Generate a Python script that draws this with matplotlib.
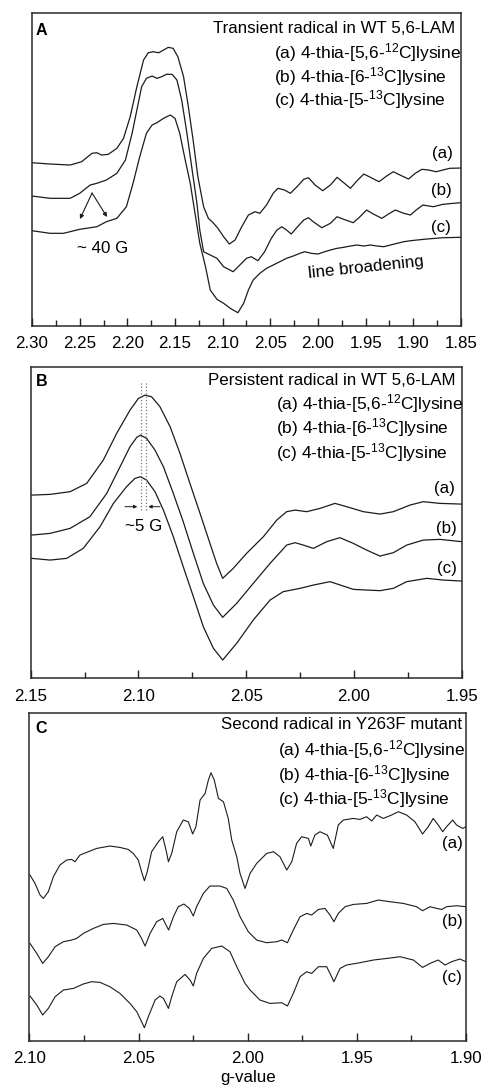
import numpy as np
import matplotlib
matplotlib.use('Agg')
import matplotlib.pyplot as plt
from matplotlib.ticker import MultipleLocator, FormatStrFormatter

plt.rcParams['font.family'] = ['Liberation Sans', 'DejaVu Sans']
plt.rcParams['mathtext.default'] = 'regular'

# ---------------- panel A: transient radical (g-value, intensity a.u.)
gA_a = [2.300, 2.281, 2.260, 2.248, 2.237, 2.232, 2.227, 2.220, 2.211, 2.204, 2.197, 2.190,
        2.183, 2.178, 2.173, 2.167, 2.162, 2.157, 2.152, 2.147, 2.141, 2.136, 2.131, 2.126,
        2.120, 2.115, 2.110, 2.105, 2.099, 2.093, 2.087, 2.080, 2.073, 2.066, 2.061, 2.054,
        2.047, 2.042, 2.035, 2.029, 2.022, 2.015, 2.010, 2.003, 1.995, 1.987, 1.980, 1.973,
        1.966, 1.959, 1.952, 1.945, 1.936, 1.928, 1.921, 1.914, 1.905, 1.898, 1.891, 1.884,
        1.876, 1.869, 1.862, 1.850]
iA_a = [163.3, 162.0, 161.0, 164.3, 172.7, 173.3, 171.0, 171.7, 177.7, 187.7, 209.3, 239.3,
        266.0, 273.3, 274.3, 273.3, 276.0, 278.7, 277.7, 269.3, 249.3, 219.3, 186.0, 149.3,
        119.3, 107.7, 103.3, 97.7, 89.3, 82.0, 86.0, 99.3, 111.0, 114.3, 112.7, 121.0,
        132.7, 137.7, 136.0, 132.7, 139.3, 146.7, 148.3, 141.0, 135.3, 141.0, 148.7, 143.3,
        137.7, 145.3, 152.0, 148.7, 144.3, 150.0, 154.3, 151.0, 147.0, 152.7, 156.7, 156.0,
        154.3, 156.0, 157.7, 158.0]

gA_b = [2.300, 2.281, 2.260, 2.250, 2.239, 2.232, 2.222, 2.211, 2.202, 2.195, 2.190, 2.185,
        2.180, 2.174, 2.169, 2.164, 2.159, 2.153, 2.148, 2.143, 2.138, 2.133, 2.127, 2.124,
        2.120, 2.113, 2.106, 2.099, 2.089, 2.082, 2.075, 2.070, 2.063, 2.056, 2.049, 2.043,
        2.038, 2.033, 2.028, 2.022, 2.015, 2.010, 2.005, 1.996, 1.987, 1.980, 1.973, 1.963,
        1.956, 1.949, 1.942, 1.933, 1.926, 1.919, 1.910, 1.903, 1.897, 1.890, 1.879, 1.869,
        1.858, 1.850]
iA_b = [130.0, 127.7, 127.7, 132.7, 141.0, 142.7, 146.0, 152.7, 166.0, 192.7, 216.0, 239.3,
        247.7, 250.0, 247.7, 249.3, 251.7, 251.7, 246.0, 226.0, 196.0, 162.7, 122.7, 96.0,
        74.3, 71.0, 67.7, 59.3, 54.3, 61.0, 67.7, 69.3, 65.3, 74.3, 87.7, 96.0,
        99.3, 96.0, 92.0, 98.7, 106.0, 108.3, 104.3, 98.3, 102.7, 109.3, 106.7, 103.3,
        109.3, 116.0, 112.0, 107.7, 112.0, 116.0, 112.7, 111.0, 116.0, 121.0, 119.3, 121.7,
        122.7, 123.3]

gA_c = [2.300, 2.281, 2.267, 2.250, 2.232, 2.222, 2.211, 2.201, 2.194, 2.187, 2.180, 2.174,
        2.169, 2.162, 2.155, 2.150, 2.145, 2.140, 2.134, 2.129, 2.124, 2.118, 2.113, 2.106,
        2.099, 2.092, 2.084, 2.078, 2.073, 2.068, 2.061, 2.054, 2.047, 2.040, 2.033, 2.026,
        2.019, 2.014, 2.007, 2.000, 1.993, 1.987, 1.980, 1.973, 1.966, 1.959, 1.952, 1.945,
        1.938, 1.931, 1.924, 1.917, 1.910, 1.903, 1.896, 1.889, 1.882, 1.869, 1.850]
iA_c = [95.3, 92.7, 92.7, 96.7, 99.3, 104.3, 107.7, 119.3, 142.7, 169.3, 192.7, 201.0,
        203.3, 207.7, 211.0, 207.7, 192.7, 169.3, 142.7, 112.7, 82.7, 59.3, 36.0, 26.7,
        22.7, 17.7, 13.3, 22.7, 36.0, 46.0, 52.7, 57.7, 61.0, 64.3, 67.7, 70.0,
        72.7, 74.3, 72.7, 72.0, 74.3, 76.0, 77.7, 78.7, 80.0, 81.0, 80.0, 81.0,
        80.0, 79.3, 81.0, 82.7, 84.3, 85.3, 86.0, 86.7, 87.3, 88.3, 88.7]

# ---------------- panel B: persistent radical
gB_a = [2.1495, 2.1410, 2.1317, 2.1240, 2.1163, 2.1101, 2.1039, 2.1000, 2.0969, 2.0939,
        2.0900, 2.0853, 2.0807, 2.0761, 2.0714, 2.0668, 2.0637, 2.0609, 2.0560, 2.0498,
        2.0420, 2.0358, 2.0312, 2.0273, 2.0219, 2.0157, 2.0088, 2.0034, 1.9956, 1.9879,
        1.9817, 1.9740, 1.9678, 1.9601, 1.9500]
iB_a = [183.3, 184.0, 186.7, 195.0, 218.3, 245.0, 268.3, 280.0, 283.3, 281.7,
        271.7, 251.7, 225.0, 195.0, 165.0, 135.0, 115.0, 100.0, 110.0, 125.0,
        141.7, 158.3, 166.7, 168.3, 166.7, 170.0, 175.0, 171.7, 166.7, 164.3,
        166.7, 173.3, 176.7, 175.0, 174.3]

gB_b = [2.1495, 2.1410, 2.1317, 2.1225, 2.1147, 2.1085, 2.1039, 2.1008, 2.0990, 2.0962,
        2.0923, 2.0884, 2.0838, 2.0792, 2.0745, 2.0699, 2.0652, 2.0609, 2.0544, 2.0467,
        2.0389, 2.0312, 2.0273, 2.0235, 2.0188, 2.0126, 2.0065, 2.0003, 1.9941, 1.9879,
        1.9817, 1.9755, 1.9678, 1.9601, 1.9500]
iB_b = [143.3, 145.0, 150.0, 161.7, 185.0, 211.7, 231.7, 241.0, 243.3, 240.0,
        228.3, 211.7, 185.0, 156.7, 125.0, 95.0, 73.3, 61.0, 75.0, 95.0,
        115.0, 133.3, 135.7, 133.3, 130.0, 136.7, 140.7, 135.0, 128.3, 122.3,
        125.7, 133.3, 138.3, 139.0, 136.7]

gB_c = [2.1495, 2.1410, 2.1333, 2.1256, 2.1178, 2.1116, 2.1055, 2.1016, 2.0990, 2.0962,
        2.0923, 2.0884, 2.0838, 2.0792, 2.0745, 2.0699, 2.0652, 2.0609, 2.0544, 2.0467,
        2.0389, 2.0328, 2.0250, 2.0188, 2.0111, 2.0049, 2.0003, 1.9941, 1.9879, 1.9817,
        1.9755, 1.9662, 1.9585, 1.9500]
iB_c = [120.0, 118.3, 120.0, 130.0, 151.7, 175.0, 191.7, 200.0, 201.7, 198.3,
        186.7, 168.3, 141.7, 111.7, 81.7, 51.7, 30.0, 18.3, 35.0, 58.3,
        78.3, 86.7, 90.0, 93.3, 96.7, 92.3, 89.0, 88.3, 87.7, 90.0,
        96.7, 100.0, 98.3, 97.3]

# ---------------- panel C: second radical in Y263F mutant
gC_a = [2.0997, 2.0974, 2.0951, 2.0936, 2.0913, 2.0890, 2.0860, 2.0829, 2.0806, 2.0791,
        2.0768, 2.0730, 2.0692, 2.0631, 2.0585, 2.0547, 2.0524, 2.0501, 2.0486, 2.0473,
        2.0460, 2.0440, 2.0409, 2.0389, 2.0374, 2.0363, 2.0348, 2.0325, 2.0295, 2.0272,
        2.0252, 2.0237, 2.0218, 2.0195, 2.0180, 2.0168, 2.0153, 2.0134, 2.0111, 2.0089,
        2.0073, 2.0050, 2.0035, 2.0012, 1.9989, 1.9959, 1.9913, 1.9882, 1.9852, 1.9821,
        1.9798, 1.9776, 1.9753, 1.9722, 1.9711, 1.9692, 1.9669, 1.9635, 1.9608, 1.9585,
        1.9562, 1.9516, 1.9486, 1.9455, 1.9432, 1.9409, 1.9379, 1.9341, 1.9310, 1.9272,
        1.9234, 1.9199, 1.9173, 1.9150, 1.9127, 1.9107, 1.9089, 1.9061, 1.9043, 1.9015,
        1.9000]
iC_a = [165.7, 157.3, 145.7, 142.3, 149.0, 164.0, 175.7, 180.7, 181.3, 179.0,
        185.7, 189.0, 192.3, 194.7, 193.3, 191.3, 187.3, 180.7, 169.0, 160.0,
        169.0, 189.0, 199.0, 204.0, 190.7, 179.0, 187.3, 209.0, 220.7, 219.0,
        206.7, 214.0, 240.7, 247.3, 260.7, 268.0, 260.7, 242.3, 239.0, 222.3,
        200.7, 184.0, 167.3, 152.3, 167.3, 177.3, 187.3, 189.0, 184.0, 170.7,
        179.0, 197.3, 204.0, 202.3, 194.7, 205.7, 209.0, 205.7, 192.3, 215.7,
        220.7, 222.3, 221.3, 224.0, 219.7, 225.7, 222.3, 225.7, 229.0, 225.7,
        219.0, 206.7, 214.0, 222.3, 215.7, 209.0, 214.0, 220.7, 215.7, 212.3,
        214.0]

gC_b = [2.0997, 2.0966, 2.0939, 2.0913, 2.0882, 2.0844, 2.0806, 2.0783, 2.0753, 2.0707,
        2.0661, 2.0615, 2.0554, 2.0508, 2.0486, 2.0470, 2.0447, 2.0417, 2.0389, 2.0374,
        2.0362, 2.0340, 2.0318, 2.0292, 2.0267, 2.0249, 2.0234, 2.0203, 2.0173, 2.0127,
        2.0096, 2.0066, 2.0035, 1.9997, 1.9959, 1.9913, 1.9867, 1.9844, 1.9818, 1.9791,
        1.9760, 1.9730, 1.9707, 1.9676, 1.9646, 1.9623, 1.9605, 1.9585, 1.9554, 1.9516,
        1.9455, 1.9402, 1.9348, 1.9287, 1.9226, 1.9199, 1.9165, 1.9134, 1.9111, 1.9089,
        1.9043, 1.9000]
iC_b = [97.3, 87.3, 77.3, 84.0, 94.0, 99.0, 100.7, 102.3, 107.3, 112.3,
        116.3, 117.3, 115.7, 110.7, 102.3, 94.7, 107.3, 119.0, 122.3, 115.7,
        110.7, 124.0, 134.0, 136.7, 132.3, 124.7, 134.0, 147.3, 154.7, 154.7,
        152.3, 140.7, 124.0, 109.0, 100.7, 98.0, 99.0, 100.7, 98.0, 110.7,
        124.0, 127.3, 125.7, 131.3, 132.3, 125.7, 119.0, 127.3, 134.0, 136.3,
        137.3, 140.7, 139.0, 137.3, 134.0, 130.0, 134.0, 132.3, 131.3, 134.0,
        135.0, 134.0]

gC_c = [2.0997, 2.0966, 2.0939, 2.0913, 2.0882, 2.0844, 2.0798, 2.0753, 2.0715, 2.0676,
        2.0631, 2.0585, 2.0539, 2.0508, 2.0486, 2.0473, 2.0455, 2.0424, 2.0402, 2.0386,
        2.0363, 2.0348, 2.0325, 2.0287, 2.0264, 2.0249, 2.0234, 2.0203, 2.0165, 2.0119,
        2.0081, 2.0050, 2.0012, 1.9989, 1.9944, 1.9898, 1.9844, 1.9818, 1.9791, 1.9760,
        1.9730, 1.9707, 1.9676, 1.9638, 1.9623, 1.9605, 1.9577, 1.9547, 1.9486, 1.9424,
        1.9363, 1.9302, 1.9241, 1.9199, 1.9165, 1.9127, 1.9096, 1.9066, 1.9028, 1.9000]
iC_c = [44.7, 35.7, 25.7, 32.3, 44.0, 50.7, 52.3, 56.7, 59.0, 58.3,
        54.0, 47.3, 37.3, 29.0, 19.0, 13.0, 24.0, 40.7, 44.7, 42.3,
        32.3, 44.0, 59.0, 66.3, 60.7, 54.7, 67.3, 82.3, 92.3, 94.7,
        89.0, 74.0, 57.3, 50.7, 40.7, 37.3, 38.0, 34.7, 47.3, 64.0,
        69.0, 67.3, 74.0, 74.0, 67.3, 59.0, 72.3, 75.7, 78.0, 80.7,
        82.3, 84.0, 80.7, 73.3, 77.3, 80.7, 75.7, 79.0, 81.7, 79.0]

legend_lines = [r'(a) 4-thia-[5,6-$^{12}$C]lysine',
                r'(b) 4-thia-[6-$^{13}$C]lysine',
                r'(c) 4-thia-[5-$^{13}$C]lysine']
titles = ['Transient radical in WT 5,6-LAM',
          'Persistent radical in WT 5,6-LAM',
          'Second radical in Y263F mutant']

FS = 12.2
FL = 12.5
LC = '#1c1c1c'

fig = plt.figure(figsize=(4.82, 10.86), dpi=100)
axA = fig.add_axes([0.0664, 0.6998, 0.8900, 0.2882])
axB = fig.add_axes([0.0636, 0.3754, 0.8942, 0.2869])
axC = fig.add_axes([0.0609, 0.0417, 0.9059, 0.3020])


def style(ax, xmax, xmin, ytop):
    ax.set_xlim(xmax, xmin)
    ax.set_ylim(0, ytop)
    ax.xaxis.set_major_locator(MultipleLocator(0.05))
    ax.xaxis.set_minor_locator(MultipleLocator(0.025))
    ax.xaxis.set_major_formatter(FormatStrFormatter('%.2f'))
    ax.set_yticks([])
    ax.tick_params(axis='x', which='both', direction='in', top=False,
                   labelsize=FS, pad=7.5, color='#222222')
    ax.tick_params(axis='x', which='major', length=6, width=1.0)
    ax.tick_params(axis='x', which='minor', length=4, width=1.0)
    for s in ax.spines.values():
        s.set_linewidth(1.1)
        s.set_color('#2a2a2a')


# panel A
style(axA, 2.30, 1.85, 313)
for g, i in [(gA_a, iA_a), (gA_b, iA_b), (gA_c, iA_c)]:
    axA.plot(g, i, color=LC, lw=0.9)
axA.text(2.296, 296, 'A', fontsize=11.5, fontweight='bold', va='center', ha='left')
axA.text(1.856, 298, titles[0], fontsize=FS, ha='right', va='center')
for k, y in enumerate([273, 249, 226]):
    axA.text(2.046, y, legend_lines[k], fontsize=FL, ha='left', va='center')
for lab, g, y in [('(a)', 1.869, 173), ('(b)', 1.871, 136), ('(c)', 1.871, 99)]:
    axA.text(g, y, lab, fontsize=FS, ha='center', va='center')
axA.text(2.226, 78, '~ 40 G', fontsize=FS, ha='center', va='center')
for end in [(2.2497, 107), (2.2213, 109)]:
    axA.annotate('', xy=end, xytext=(2.237, 133),
                 arrowprops=dict(arrowstyle='-|>', lw=0.8, color=LC,
                                 mutation_scale=6, shrinkA=0, shrinkB=0))
axA.text(1.9496, 59, 'line broadening', fontsize=FS, ha='center', va='center',
         rotation=6)

# panel B
style(axB, 2.15, 1.95, 311.7)
for g, i in [(gB_a, iB_a), (gB_b, iB_b), (gB_c, iB_c)]:
    axB.plot(g, i, color=LC, lw=0.9)
axB.text(2.1478, 296.6, 'B', fontsize=11.5, fontweight='bold', va='center', ha='left')
axB.text(1.9527, 297.6, titles[1], fontsize=FS, ha='right', va='center')
for k, y in enumerate([275, 251, 226]):
    axB.text(2.0363, y, legend_lines[k], fontsize=FL, ha='left', va='center')
for lab, g, y in [('(a)', 1.9578, 190), ('(b)', 1.9569, 150), ('(c)', 1.9569, 110)]:
    axB.text(g, y, lab, fontsize=FS, ha='center', va='center')
for gd in [2.0988, 2.0965]:
    axB.plot([gd, gd], [168, 296], ls=':', lw=0.9, color='#777777')
axB.annotate('', xy=(2.1005, 171.7), xytext=(2.1062, 171.7),
             arrowprops=dict(arrowstyle='-|>', lw=0.7, color=LC,
                             mutation_scale=5, shrinkA=0, shrinkB=0))
axB.annotate('', xy=(2.0954, 171.7), xytext=(2.0900, 171.7),
             arrowprops=dict(arrowstyle='-|>', lw=0.7, color=LC,
                             mutation_scale=5, shrinkA=0, shrinkB=0))
axB.text(2.0976, 152, '~5 G', fontsize=FS, ha='center', va='center')

# panel C
style(axC, 2.10, 1.90, 328)
for g, i in [(gC_a, iC_a), (gC_b, iC_b), (gC_c, iC_c)]:
    axC.plot(g, i, color=LC, lw=0.8)
axC.text(2.0974, 312.3, 'C', fontsize=11.5, fontweight='bold', va='center', ha='left')
axC.text(1.9018, 316.7, titles[2], fontsize=FS, ha='right', va='center')
for k, y in enumerate([290.7, 265.7, 241.7]):
    axC.text(1.9861, y, legend_lines[k], fontsize=FL, ha='left', va='center')
for lab, y in [('(a)', 197.7), ('(b)', 119.7), ('(c)', 63.7)]:
    axC.text(1.9064, y, lab, fontsize=FS, ha='center', va='center')
axC.set_xlabel('g-value', fontsize=FS, labelpad=3)

fig.savefig('out.png', dpi=100, facecolor='white')
